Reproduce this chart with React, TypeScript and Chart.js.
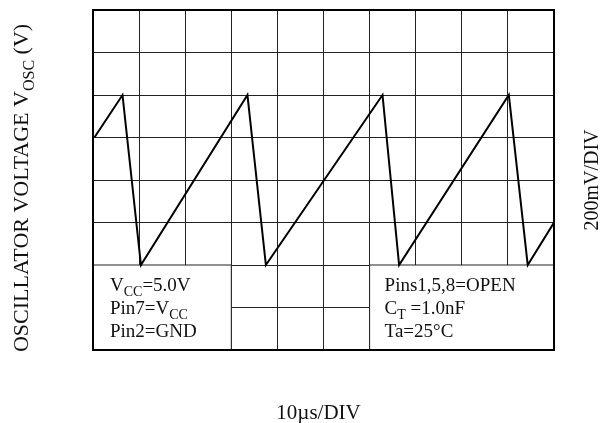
import React, { useEffect, useRef } from "react";
import { Chart, registerables } from "chart.js";

Chart.register(...registerables);

// Waveform, in divisions (x: 10 µs/div, y: 200 mV/div)
const timeDiv = [0.03, 0.64, 1.04, 3.35, 3.75, 6.28, 6.64, 9.02, 9.43, 10];
const voltDiv = [5, 6, 2, 6, 2, 6, 2, 6, 2, 3];

const xDivisions = [0, 10];
const yDivisions = [0, 8];

const xTitle = "10µs/DIV";
const yRightTitle = "200mV/DIV";
// segments: [text, isSubscript]
const yTitleParts: [string, boolean][] = [
  ["OSCILLATOR VOLTAGE V", false],
  ["OSC", true],
  [" (V)", false],
];
const leftNotes: [string, boolean][][] = [
  [["V", false], ["CC", true], ["=5.0V", false]],
  [["Pin7=V", false], ["CC", true]],
  [["Pin2=GND", false]],
];
const rightNotes: [string, boolean][][] = [
  [["Pins1,5,8=OPEN", false]],
  [["C", false], ["T", true], [" =1.0nF", false]],
  [["Ta=25°C", false]],
];
// note boxes (in divisions): [xFrom, xTo, yFrom, yTo]
const noteBoxes = [
  [0, 3, 0, 2],
  [6, 10, 0, 2],
];

const FONT = '"Liberation Serif", "Times New Roman", serif';

function drawRich(
  ctx: CanvasRenderingContext2D,
  parts: [string, boolean][],
  x: number,
  y: number,
  size: number,
  sub: number
) {
  let cx = x;
  for (const [t, isSub] of parts) {
    ctx.font = `${isSub ? sub : size}px ${FONT}`;
    ctx.fillText(t, cx, isSub ? y + Math.round(size * 0.25) : y);
    cx += ctx.measureText(t).width;
  }
  return cx - x;
}

function richWidth(ctx: CanvasRenderingContext2D, parts: [string, boolean][], size: number, sub: number) {
  let w = 0;
  for (const [t, isSub] of parts) {
    ctx.font = `${isSub ? sub : size}px ${FONT}`;
    w += ctx.measureText(t).width;
  }
  return w;
}

const scopePlugin = {
  id: "scopeDecor",
  beforeDatasetsDraw(chart: any) {
    const { ctx, scales } = chart;
    const xs = scales.x;
    const ys = scales.y;
    ctx.save();
    for (const [x0, x1, y0, y1] of noteBoxes) {
      const l = xs.getPixelForValue(x0);
      const r = xs.getPixelForValue(x1);
      const t = ys.getPixelForValue(y1);
      const b = ys.getPixelForValue(y0);
      ctx.fillStyle = "#fff";
      ctx.fillRect(l, t, r - l, b - t);
      ctx.strokeStyle = "#222";
      ctx.lineWidth = 1;
      ctx.strokeRect(l, t, r - l, b - t);
    }
    ctx.restore();
  },
  afterDraw(chart: any) {
    const { ctx, scales, chartArea } = chart;
    const xs = scales.x;
    const ys = scales.y;
    ctx.save();
    // frame
    ctx.strokeStyle = "#000";
    ctx.lineWidth = 2;
    ctx.strokeRect(chartArea.left, chartArea.top, chartArea.right - chartArea.left, chartArea.bottom - chartArea.top);

    ctx.fillStyle = "#111";
    ctx.textBaseline = "alphabetic";
    ctx.textAlign = "left";
    const boxTop = ys.getPixelForValue(2);
    const lx = xs.getPixelForValue(0) + 17;
    const rx = xs.getPixelForValue(6) + 15;
    const offs = [26, 49, 72];
    leftNotes.forEach((line, i) => drawRich(ctx, line, lx, boxTop + offs[i], 19, 14));
    rightNotes.forEach((line, i) => drawRich(ctx, line, rx, boxTop + offs[i], 19, 14));

    // bottom title
    ctx.font = `21px ${FONT}`;
    ctx.textAlign = "center";
    const midX = (chartArea.left + chartArea.right) / 2;
    ctx.fillText(xTitle, midX - 5, chartArea.bottom + 69);

    // right title
    ctx.save();
    ctx.font = `20px ${FONT}`;
    ctx.translate(chartArea.right + 44, (chartArea.top + chartArea.bottom) / 2);
    ctx.rotate(-Math.PI / 2);
    ctx.textAlign = "center";
    ctx.fillText(yRightTitle, 0, 0);
    ctx.restore();

    // left title
    ctx.save();
    ctx.textAlign = "left";
    const w = richWidth(ctx, yTitleParts, 22, 16);
    ctx.translate(28, 188);
    ctx.rotate(-Math.PI / 2);
    drawRich(ctx, yTitleParts, -w / 2, 0, 22, 16);
    ctx.restore();

    ctx.restore();
  },
};

export default function App() {
  const ref = useRef<HTMLCanvasElement | null>(null);
  useEffect(() => {
    if (!ref.current) return;
    const chart = new Chart(ref.current, {
      type: "scatter",
      data: {
        datasets: [
          {
            data: timeDiv.map((t, i) => ({ x: t, y: voltDiv[i] })),
            showLine: true,
            borderColor: "#000",
            borderWidth: 2,
            pointRadius: 0,
            fill: false,
            tension: 0,
          },
        ],
      },
      options: {
        animation: false,
        responsive: true,
        maintainAspectRatio: false,
        layout: { padding: { left: 93, top: 10, right: 59, bottom: 73 } },
        plugins: { legend: { display: false }, tooltip: { enabled: false } },
        scales: {
          x: {
            type: "linear",
            min: xDivisions[0],
            max: xDivisions[1],
            ticks: { display: false, stepSize: 1 },
            grid: { color: "#222", lineWidth: 1, drawTicks: false },
            border: { display: false },
          },
          y: {
            type: "linear",
            min: yDivisions[0],
            max: yDivisions[1],
            ticks: { display: false, stepSize: 1 },
            grid: { color: "#222", lineWidth: 1, drawTicks: false },
            border: { display: false },
          },
        },
      },
      plugins: [scopePlugin],
    });
    return () => chart.destroy();
  }, []);
  return (
    <div style={{ position: "fixed", left: 0, top: 0, width: 613, height: 423, background: "#fff" }}>
      <canvas ref={ref} />
    </div>
  );
}
